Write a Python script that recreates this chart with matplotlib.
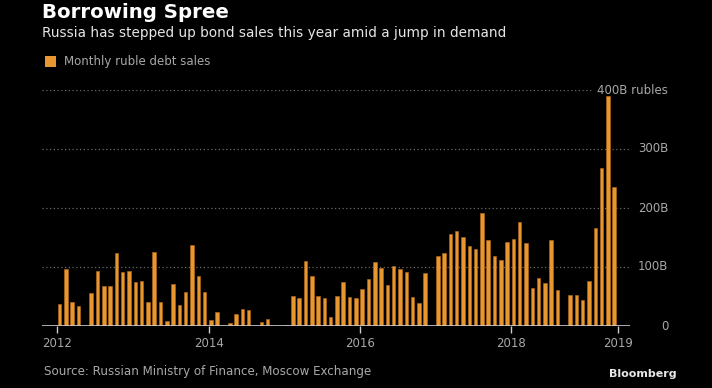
import matplotlib.pyplot as plt
import numpy as np

# Monthly ruble debt sales, billions of rubles, Jan 2012 onward
sales = [
    38, 97, 40, 34, 0, 56, 93, 68, 67, 123, 91, 93,
    74, 77, 41, 125, 41, 9, 71, 36, 57, 137, 85, 57,
    10, 24, 0, 5, 21, 29, 27, 0, 7, 12, 0, 0,
    2, 51, 47, 111, 85, 51, 47, 15, 51, 75, 49, 47,
    62, 79, 109, 99, 70, 101, 97, 92, 49, 39, 89, 0,
    119, 124, 156, 161, 151, 136, 131, 191, 145, 119, 112, 142,
    148, 176, 141, 64, 82, 73, 145, 61, 0, 53, 52, 44,
    77, 166, 268, 389, 236,
]
year_labels = ["2012", "2014", "2016", "2018", "2019"]
year_months = [0, 24, 48, 72, 89]
y_ticks = [0, 100, 200, 300, 400]
y_labels = ["0", "100B", "200B", "300B", "400B rubles"]

orange = "#E8962F"
grey = "#a8a8a8"

fig = plt.figure(figsize=(7.12, 3.88), dpi=100, facecolor="black")
ax = fig.add_axes([42 / 712, 62 / 388, 588 / 712, 236 / 388], facecolor="black")

x = np.arange(len(sales))
ax.bar(x, sales, width=0.56, color=orange, edgecolor="#b56d1c", linewidth=0.4, zorder=3)

ax.set_xlim(-2.8, 90.5)
ax.set_ylim(0, 400)

# dotted gridlines
for v in y_ticks[1:]:
    end = 0.935 if v == 400 else 1.0
    ax.axhline(v, xmin=0, xmax=end, color="#6a6a6a", linestyle=(0, (1, 2)), linewidth=0.9, zorder=1)
ax.axhline(0, color="#cccccc", linewidth=1.2, zorder=4)

for sp in ax.spines.values():
    sp.set_visible(False)

ax.set_xticks([m - 0.35 for m in year_months])
ax.set_xticklabels(year_labels)
ax.tick_params(axis="x", colors="#cccccc", length=5, width=1, direction="out",
               labelcolor=grey, labelsize=8.5, pad=3)

ax.set_yticks([])
for v, lab in zip(y_ticks, y_labels):
    ax.text(1.065, v, lab, transform=ax.get_yaxis_transform(), ha="right", va="center",
            color=grey, fontsize=8.5)

fig.text(42 / 712, 1 - 13 / 388, "Borrowing Spree", color="white", fontsize=14.2,
         fontweight="bold", va="center", ha="left")
fig.text(42 / 712, 1 - 33 / 388, "Russia has stepped up bond sales this year amid a jump in demand",
         color="#e6e6e6", fontsize=9.8, va="center", ha="left")

fig.patches.append(plt.Rectangle((45 / 712, 1 - 67 / 388), 11 / 712, 11 / 388,
                                 transform=fig.transFigure, facecolor=orange, edgecolor="none"))
fig.text(64 / 712, 1 - 61 / 388, "Monthly ruble debt sales", color=grey, fontsize=8.5,
         va="center", ha="left")

fig.text(44 / 712, 1 - 371 / 388, "Source: Russian Ministry of Finance, Moscow Exchange",
         color=grey, fontsize=8.6, va="center", ha="left")
fig.text(677 / 712, 1 - 374 / 388, "Bloomberg", color="#e8e8e8", fontsize=8,
         fontweight="bold", va="center", ha="right")

fig.savefig("out.png", dpi=100, facecolor="black")
